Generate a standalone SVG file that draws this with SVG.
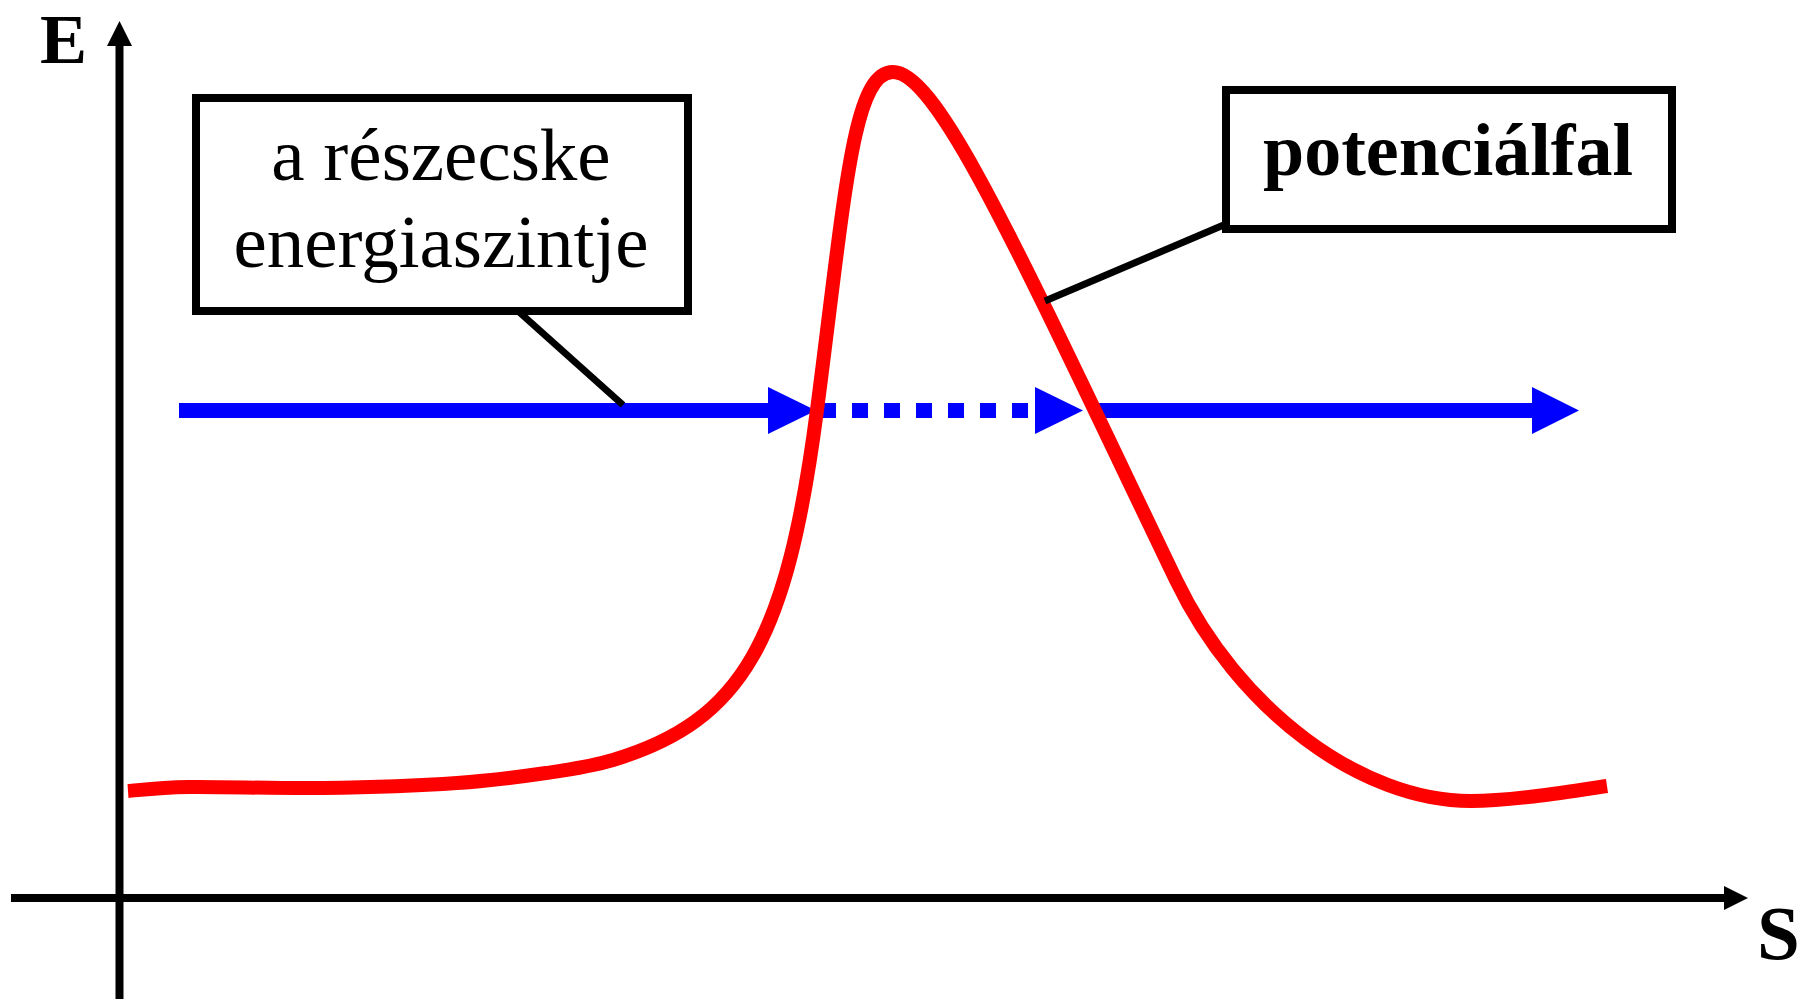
<svg xmlns="http://www.w3.org/2000/svg" width="1801" height="999" viewBox="0 0 1801 999">
<style>
.ax{stroke:#000;stroke-width:8;fill:none}
.axh{fill:#000}
.box{fill:#fff;stroke:#000;stroke-width:8}
.ptr{stroke:#000;stroke-width:7;fill:none}
.blue{stroke:#0000ff;stroke-width:15;fill:none}
.bh{fill:#0000ff}
.dot{fill:#0000ff}
.red{stroke:#ff0000;stroke-width:14;fill:none;stroke-linejoin:round}
.lbl{font-family:"Liberation Serif","Times New Roman",serif;fill:#000}
.b{font-weight:bold}
</style>
<rect width="1801" height="999" fill="#fff"/>
<g id="axes">
<line class="ax" x1="119.5" y1="44" x2="119.5" y2="999"/>
<polygon class="axh" points="119.5,21 107,46 132,46"/>
<line class="ax" x1="11" y1="898" x2="1727" y2="898"/>
<polygon class="axh" points="1748,898 1724,886 1724,910"/>
</g>
<g id="axis-E"><text class="lbl b" x="40" y="63" font-size="70.5">E</text></g>
<g id="axis-S"><text class="lbl b" x="1757" y="959" font-size="77">S</text></g>
<g id="energy-level">
<line class="blue" x1="179" y1="410.5" x2="770" y2="410.5"/>
<polygon class="bh" points="768,387 816,410.5 768,434"/>
<rect class="dot" x="820" y="403" width="16" height="15"/>
<rect class="dot" x="852" y="403" width="16" height="15"/>
<rect class="dot" x="884" y="403" width="16" height="15"/>
<rect class="dot" x="916" y="403" width="16" height="15"/>
<rect class="dot" x="948" y="403" width="16" height="15"/>
<rect class="dot" x="980" y="403" width="16" height="15"/>
<rect class="dot" x="1012" y="403" width="16" height="15"/>
<polygon class="bh" points="1035,387 1083,410.5 1035,434"/>
<line class="blue" x1="1099" y1="410.5" x2="1534" y2="410.5"/>
<polygon class="bh" points="1532,387 1579,410.5 1532,434"/>
</g>
<g id="potential-wall">
<path class="red" d="M128,791 C138.2,790.3 156.5,787.5 189,787 S278.3,788.7 323,788 S419.8,785.5 457,783 S520,776.8 546,773 S590.7,766.7 613,760 C743,721 787,640 817,410 C845.6,190 853,72 893,72 C938,72 1017.6,250 1176,580 C1238.4,710 1361,801 1471,801 C1511,801 1567,792 1607,786"/>
</g>
<g id="connectors">
<line class="ptr" x1="518" y1="311" x2="623" y2="405"/>
<line class="ptr" x1="1045" y1="301" x2="1226" y2="224"/>
</g>
<g id="box-energy">
<rect class="box" x="196" y="98" width="492" height="213"/>
<text class="lbl" x="441" y="180" font-size="75" text-anchor="middle">a részecske</text>
<text class="lbl" x="441" y="267" font-size="75" text-anchor="middle">energiaszintje</text>
</g>
<g id="box-wall">
<rect class="box" x="1226" y="90" width="446" height="139"/>
<text class="lbl b" x="1448" y="175" font-size="74" text-anchor="middle">potenciálfal</text>
</g>
</svg>
